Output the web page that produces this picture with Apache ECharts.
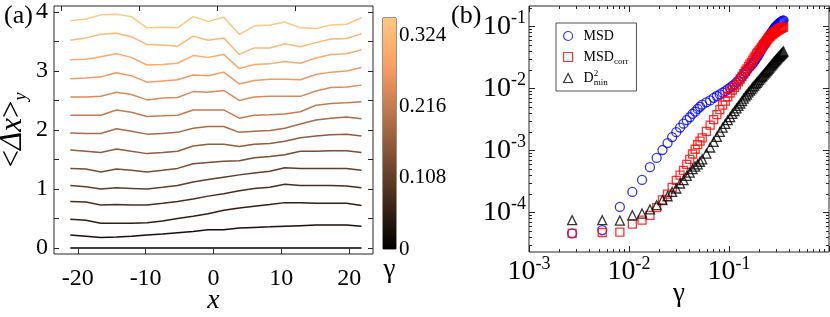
<!DOCTYPE html>
<html><head><meta charset="utf-8">
<script src="https://cdn.jsdelivr.net/npm/echarts@6/dist/echarts.min.js"></script>
<style>html,body{margin:0;padding:0;background:#fff}#c{width:830px;height:317px}</style>
</head><body><div id="c"></div>
<script>
// ---------- Panel (a): <Δx>_y profiles ----------
const xPos = [-21.1, -18.8, -16.6, -14.3, -12.1, -9.8, -7.5, -5.3, -3.0, -0.8, 1.5, 3.8, 6.0, 8.3, 10.5, 12.8, 15.1, 17.3, 19.6, 21.8];
const gammaLevels = [0, 0.027, 0.054, 0.081, 0.108, 0.135, 0.162, 0.189, 0.216, 0.243, 0.270, 0.297, 0.324, 0.351];
const dx00 = [0,0,0,0,0,0,0,0,0,0,0,0,0,0,0,0,0,0,0,0];
const dx01 = [0.22,0.20,0.18,0.19,0.20,0.22,0.24,0.26,0.28,0.31,0.31,0.34,0.35,0.36,0.37,0.38,0.39,0.39,0.39,0.37];
const dx02 = [0.49,0.47,0.42,0.42,0.42,0.43,0.46,0.50,0.54,0.58,0.64,0.68,0.71,0.74,0.77,0.77,0.76,0.76,0.76,0.72];
const dx03 = [0.79,0.78,0.73,0.74,0.73,0.73,0.76,0.79,0.83,0.88,0.92,0.97,1.01,1.03,1.08,1.06,1.06,1.06,1.05,1.02];
const dx04 = [1.06,1.04,1.00,1.02,1.01,1.00,1.03,1.06,1.12,1.16,1.20,1.24,1.27,1.30,1.36,1.35,1.35,1.35,1.35,1.32];
const dx05 = [1.35,1.34,1.29,1.34,1.32,1.29,1.32,1.35,1.43,1.45,1.47,1.48,1.53,1.55,1.58,1.64,1.64,1.65,1.65,1.62];
const dx06 = [1.66,1.64,1.62,1.68,1.64,1.60,1.62,1.64,1.73,1.76,1.76,1.72,1.76,1.77,1.81,1.87,1.90,1.92,1.93,1.90];
const dx07 = [1.95,1.94,1.94,2.02,1.98,1.93,1.94,1.96,2.03,2.06,2.06,1.96,1.98,1.99,2.03,2.10,2.17,2.20,2.22,2.19];
const dx08 = [2.25,2.25,2.25,2.34,2.30,2.23,2.24,2.25,2.34,2.34,2.34,2.20,2.25,2.26,2.27,2.31,2.42,2.45,2.46,2.48];
const dx09 = [2.56,2.56,2.57,2.64,2.60,2.51,2.54,2.55,2.65,2.64,2.67,2.50,2.56,2.57,2.57,2.57,2.66,2.72,2.73,2.76];
const dx10 = [2.87,2.88,2.90,2.97,2.92,2.81,2.83,2.85,2.93,2.92,2.98,2.78,2.84,2.86,2.86,2.85,2.94,2.98,3.00,3.06];
const dx11 = [3.19,3.20,3.24,3.29,3.23,3.10,3.11,3.13,3.26,3.23,3.28,3.04,3.11,3.12,3.16,3.13,3.22,3.28,3.29,3.36];
const dx12 = [3.52,3.56,3.62,3.64,3.58,3.45,3.44,3.42,3.59,3.52,3.56,3.28,3.39,3.39,3.46,3.41,3.48,3.54,3.55,3.63];
const dx13 = [3.85,3.88,3.95,3.96,3.92,3.73,3.74,3.73,3.92,3.84,3.91,3.62,3.76,3.78,3.83,3.73,3.72,3.78,3.79,3.90];
const profiles = [dx00,dx01,dx02,dx03,dx04,dx05,dx06,dx07,dx08,dx09,dx10,dx11,dx12,dx13];

const xTicksA = [-20, -10, 0, 10, 20];
const topTicksA = [0, 1, 2, 3];
const yTicksA = [0, 0.5, 1, 1.5, 2, 2.5, 3, 3.5, 4];
const yLabelsA = [0, 1, 2, 3, 4];
const cbTicks = [0, 0.108, 0.216, 0.324];

// ---------- Panel (b): MSD, MSD_corr, D2min vs gamma ----------
const gammaB = [0.0027,0.0054,0.0081,0.0108,0.0135,0.0162,0.0189,0.0216,0.0243,0.0270,0.0297,0.0324,0.0351,0.0378,0.0405,0.0432,0.0459,0.0486,0.0513,0.0540,
  0.0594,0.0648,0.0702,0.0756,0.0810,0.0864,0.0918,0.0972,0.1026,0.1080,
  0.1134,0.1188,0.1242,0.1296,0.1350,0.1404,0.1458,0.1512,0.1566,0.1620,
  0.1674,0.1728,0.1782,0.1836,0.1890,0.1944,0.1998,0.2052,0.2106,0.2160,
  0.2214,0.2268,0.2322,0.2376,0.2430,0.2484,0.2538,0.2592,0.2646,0.2700,
  0.2754,0.2808,0.2862,0.2916,0.2970,0.3024,0.3078,0.3132,0.3186,0.3240,
  0.3294,0.3348,0.3402,0.3456,0.3510];
const msd = [4.6e-5,5.2e-5,1.23e-4,2.15e-4,3.35e-4,5.4e-4,7.6e-4,1.02e-3,1.32e-3,1.65e-3,1.98e-3,2.35e-3,2.72e-3,3.1e-3,3.45e-3,3.9e-3,4.25e-3,4.7e-3,5.1e-3,5.5e-3,
  6.0e-3,6.45e-3,7.1e-3,7.6e-3,8.1e-3,8.6e-3,9.1e-3,9.8e-3,1.035e-2,1.11e-2,
  1.175e-2,1.26e-2,1.35e-2,1.46e-2,1.58e-2,1.70e-2,1.84e-2,2.0e-2,2.14e-2,2.26e-2,
  2.4e-2,2.57e-2,2.72e-2,2.92e-2,3.16e-2,3.39e-2,3.63e-2,3.94e-2,4.27e-2,4.57e-2,
  4.9e-2,5.25e-2,5.62e-2,5.96e-2,6.31e-2,6.68e-2,7.08e-2,7.5e-2,7.94e-2,8.32e-2,
  8.71e-2,9.12e-2,9.55e-2,9.89e-2,0.102,0.1054,0.1084,0.111,0.1135,0.116,
  0.119,0.121,0.123,0.125,0.127];
const msdCorr = [4.6e-5,4.75e-5,4.8e-5,6.5e-5,7.5e-5,9.0e-5,1.2e-4,1.6e-4,1.98e-4,2.55e-4,3.3e-4,4.0e-4,4.8e-4,6.0e-4,7.2e-4,8.8e-4,1.05e-3,1.25e-3,1.42e-3,1.6e-3,
  2.04e-3,2.57e-3,3.16e-3,3.8e-3,4.57e-3,5.4e-3,6.3e-3,7.4e-3,8.5e-3,9.5e-3,
  1.05e-2,1.15e-2,1.29e-2,1.43e-2,1.58e-2,1.74e-2,1.91e-2,2.09e-2,2.29e-2,2.48e-2,
  2.66e-2,2.88e-2,3.13e-2,3.35e-2,3.63e-2,3.85e-2,4.07e-2,4.32e-2,4.57e-2,4.84e-2,
  5.13e-2,5.37e-2,5.62e-2,5.96e-2,6.31e-2,6.61e-2,6.84e-2,7.08e-2,7.33e-2,7.55e-2,
  7.76e-2,7.94e-2,8.13e-2,8.32e-2,8.51e-2,8.67e-2,8.81e-2,8.97e-2,9.12e-2,9.29e-2,
  9.44e-2,9.55e-2,9.66e-2,9.77e-2,9.89e-2];
const d2min = [7.5e-5,7.5e-5,7.4e-5,9.0e-5,9.6e-5,1.12e-4,1.31e-4,1.58e-4,1.83e-4,2.15e-4,2.44e-4,2.94e-4,3.33e-4,3.9e-4,4.4e-4,5.0e-4,5.5e-4,6.0e-4,6.6e-4,7.2e-4,
  8.9e-4,1.12e-3,1.38e-3,1.66e-3,2.0e-3,2.34e-3,2.7e-3,3.1e-3,3.47e-3,3.9e-3,
  4.32e-3,4.79e-3,5.25e-3,5.75e-3,6.31e-3,6.92e-3,7.5e-3,8.04e-3,8.71e-3,9.27e-3,
  9.84e-3,1.05e-2,1.11e-2,1.18e-2,1.245e-2,1.31e-2,1.38e-2,1.46e-2,1.53e-2,1.6e-2,
  1.68e-2,1.76e-2,1.84e-2,1.92e-2,2.0e-2,2.09e-2,2.19e-2,2.28e-2,2.37e-2,2.47e-2,
  2.57e-2,2.66e-2,2.75e-2,2.85e-2,2.95e-2,3.05e-2,3.16e-2,3.25e-2,3.35e-2,3.45e-2,
  3.55e-2,3.66e-2,3.76e-2,3.87e-2,3.98e-2];
const seriesNamesB = ['MSD', 'MSDcorr', 'D2min'];
const xMajorB = [1e-3, 1e-2, 1e-1, 1];
const xLabelB = [1e-3, 1e-2, 1e-1];
const yMajorB = [1e-4, 1e-3, 1e-2, 1e-1];

// ---------- helpers ----------
const SERIF = '"Liberation Serif","Times New Roman",serif';
const INK = '#262626';
function minorsFor(decades) {
  const out = [];
  decades.forEach(d => { for (let m = 2; m <= 9; m++) out.push(+(d * m).toPrecision(3)); });
  return out;
}
const xMinorB = minorsFor([1e-3, 1e-2, 1e-1]);
const yMinorB = minorsFor([1e-5, 1e-4, 1e-3, 1e-2, 1e-1]);

function copper(t) {
  const r = Math.min(1, 1.25 * t), g = 0.7812 * t, b = 0.4975 * t;
  return 'rgb(' + Math.round(r * 255) + ',' + Math.round(g * 255) + ',' + Math.round(b * 255) + ')';
}
const cbMax = gammaLevels[gammaLevels.length - 1];
const tickLine = { color: INK, width: 1 };
const noLine = { show: false, onZero: false };
function tickOnly(o) {
  return Object.assign({ axisLine: noLine, splitLine: { show: false }, axisLabel: { show: false } }, o);
}
function powLabel(v) {
  const e = Math.round(Math.log10(v));
  return '10{sup|' + e + '}';
}
const supRich = { sup: { fontFamily: SERIF, fontSize: 18, lineHeight: 18, verticalAlign: 'top', color: '#000' } };

const chart = echarts.init(document.getElementById('c'), null, { renderer: 'canvas' });

const seriesA = profiles.map((arr, i) => ({
  type: 'line', xAxisIndex: 0, yAxisIndex: 0, showSymbol: false, silent: true,
  data: xPos.map((x, j) => [x, arr[j]]),
  lineStyle: { width: 1.5, color: copper(gammaLevels[i] / cbMax) },
  itemStyle: { color: copper(gammaLevels[i] / cbMax) }
}));

const markerStyles = [
  { symbol: 'circle', size: 9, color: '#0000ff' },
  { symbol: 'rect', size: 8, color: '#ff0000' },
  { symbol: 'triangle', size: 9, color: '#000000' }
];
const valuesB = [msd, msdCorr, d2min];
const seriesB = valuesB.map((vals, i) => ({
  name: seriesNamesB[i], type: 'scatter', xAxisIndex: 3, yAxisIndex: 3, silent: true,
  symbol: markerStyles[i].symbol, symbolSize: markerStyles[i].size,
  data: gammaB.map((g, j) => [g, vals[j]]),
  itemStyle: { color: 'rgba(0,0,0,0)', borderColor: markerStyles[i].color, borderWidth: 1.3 }
}));

const colorbarSeries = {
  type: 'bar', xAxisIndex: 2, yAxisIndex: 2, silent: true, barWidth: '100%',
  data: [cbMax],
  itemStyle: {
    color: new echarts.graphic.LinearGradient(0, 1, 0, 0, [
      { offset: 0, color: copper(0) }, { offset: 0.8, color: copper(0.8) }, { offset: 1, color: copper(1) }
    ])
  }
};

const legendText = { MSD: 'MSD', MSDcorr: 'MSD{sub|corr}', D2min: 'D{sup|2}{sub|min}' };
const gridCommon = { show: true, borderColor: INK, borderWidth: 1, backgroundColor: 'transparent', containLabel: false, outerBoundsMode: 'none' };

chart.setOption({
  animation: false,
  backgroundColor: '#fff',
  title: [
    { text: '(a)', left: -1, top: -2, textStyle: { fontFamily: SERIF, fontSize: 26, fontWeight: 'normal', color: '#000' } },
    { text: '(b)', left: 446, top: -2, textStyle: { fontFamily: SERIF, fontSize: 26, fontWeight: 'normal', color: '#000' } }
  ],
  grid: [
    Object.assign({ left: 54, top: 6, width: 319, height: 248 }, gridCommon),
    Object.assign({ left: 383, top: 18, width: 13, height: 231 }, gridCommon),
    Object.assign({ left: 529, top: 6, width: 300, height: 246 }, gridCommon)
  ],
  legend: {
    data: [
      { name: 'MSD', icon: 'circle', itemStyle: { color: 'rgba(0,0,0,0)', borderColor: '#0000ff', borderWidth: 1.2 } },
      { name: 'MSDcorr', icon: 'rect', itemStyle: { color: 'rgba(0,0,0,0)', borderColor: '#ff0000', borderWidth: 1.2 } },
      { name: 'D2min', icon: 'triangle', itemStyle: { color: 'rgba(0,0,0,0)', borderColor: '#000000', borderWidth: 1.2 } }
    ],
    orient: 'vertical', left: 556, top: 23, padding: [4, 8, 4, 7], itemGap: 3,
    itemWidth: 9, itemHeight: 9, backgroundColor: '#fff', borderColor: INK, borderWidth: 0.8, borderRadius: 0,
    selectedMode: false,
    formatter: n => legendText[n],
    textStyle: {
      fontFamily: SERIF, fontSize: 14, color: '#000', lineHeight: 18, padding: [0, 0, 0, 6],
      rich: {
        sub: { fontFamily: SERIF, fontSize: 9, lineHeight: 9, verticalAlign: 'bottom', color: '#000' },
        sup: { fontFamily: SERIF, fontSize: 9, lineHeight: 9, verticalAlign: 'top', width: 0.01, color: '#000' }
      }
    }
  },
  xAxis: [
    { type: 'value', gridIndex: 0, position: 'bottom', min: -23.5, max: 23.5,
      axisLine: noLine, splitLine: { show: false },
      axisTick: { inside: true, length: 5, customValues: xTicksA, lineStyle: tickLine },
      axisLabel: { customValues: xTicksA, margin: 13, fontFamily: SERIF, fontSize: 24, color: '#000' },
      name: 'x', nameLocation: 'middle', nameGap: 33, nameMoveOverlap: false,
      nameTextStyle: { fontFamily: SERIF, fontSize: 28, fontStyle: 'italic', color: '#000' } },
    tickOnly({ type: 'value', gridIndex: 0, position: 'top', min: -0.09, max: 3.99,
      axisTick: { inside: true, length: 5, customValues: topTicksA, lineStyle: tickLine } }),
    { type: 'category', gridIndex: 1, data: ['cb'], axisLine: noLine, axisTick: { show: false }, axisLabel: { show: false },
      name: 'γ', nameLocation: 'middle', nameGap: 7, nameMoveOverlap: false,
      nameTextStyle: { fontFamily: SERIF, fontSize: 27, color: '#000' } },
    { type: 'log', logBase: 10, gridIndex: 2, position: 'bottom', min: 1e-3, max: 1,
      axisLine: noLine, splitLine: { show: false },
      axisTick: { inside: true, length: 6, customValues: xMajorB, lineStyle: tickLine },
      axisLabel: { customValues: xLabelB, formatter: powLabel, margin: 3, fontFamily: SERIF, fontSize: 28, lineHeight: 34, color: '#000', rich: supRich },
      name: 'γ', nameLocation: 'middle', nameGap: 28, nameMoveOverlap: false,
      nameTextStyle: { fontFamily: SERIF, fontSize: 27, color: '#000' } },
    tickOnly({ type: 'log', logBase: 10, gridIndex: 2, position: 'bottom', min: 1e-3, max: 1,
      axisTick: { inside: true, length: 3, customValues: xMinorB, lineStyle: tickLine } }),
    tickOnly({ type: 'log', logBase: 10, gridIndex: 2, position: 'top', min: 1e-3, max: 1,
      axisTick: { inside: true, length: 6, customValues: xMajorB, lineStyle: tickLine } }),
    tickOnly({ type: 'log', logBase: 10, gridIndex: 2, position: 'top', min: 1e-3, max: 1,
      axisTick: { inside: true, length: 3, customValues: xMinorB, lineStyle: tickLine } })
  ],
  yAxis: [
    { type: 'value', gridIndex: 0, position: 'left', min: -0.1, max: 4.1,
      axisLine: noLine, splitLine: { show: false },
      axisTick: { inside: true, length: 5, customValues: yTicksA, lineStyle: tickLine },
      axisLabel: { customValues: yLabelsA, margin: 6, fontFamily: SERIF, fontSize: 24, color: '#000' },
      name: '<{it|Δx}>{sub|y}', nameLocation: 'middle', nameRotate: 90, nameGap: 24, nameMoveOverlap: false,
      nameTextStyle: { fontFamily: SERIF, fontSize: 31, color: '#000', lineHeight: 34,
        rich: {
          it: { fontFamily: SERIF, fontSize: 31, fontStyle: 'italic', color: '#000', lineHeight: 34 },
          sub: { fontFamily: SERIF, fontSize: 18, fontStyle: 'italic', color: '#000', lineHeight: 18, verticalAlign: 'bottom' }
        } } },
    tickOnly({ type: 'value', gridIndex: 0, position: 'right', min: -0.1, max: 4.1,
      axisTick: { inside: true, length: 5, customValues: yTicksA, lineStyle: tickLine } }),
    { type: 'value', gridIndex: 1, position: 'right', min: 0, max: cbMax,
      axisLine: noLine, splitLine: { show: false },
      axisTick: { inside: true, length: 3, customValues: cbTicks, lineStyle: tickLine },
      axisLabel: { customValues: cbTicks, margin: 3, fontFamily: SERIF, fontSize: 21, color: '#000',
        formatter: v => (v === 0 ? '0' : v.toFixed(3)) } },
    { type: 'log', logBase: 10, gridIndex: 2, position: 'left', min: 2.3e-5, max: 0.216,
      axisLine: noLine, splitLine: { show: false },
      axisTick: { inside: true, length: 6, customValues: yMajorB, lineStyle: tickLine },
      axisLabel: { customValues: yMajorB, formatter: powLabel, margin: 3, fontFamily: SERIF, fontSize: 28, lineHeight: 34, color: '#000', rich: supRich } },
    tickOnly({ type: 'log', logBase: 10, gridIndex: 2, position: 'left', min: 2.3e-5, max: 0.216,
      axisTick: { inside: true, length: 3, customValues: yMinorB, lineStyle: tickLine } }),
    tickOnly({ type: 'log', logBase: 10, gridIndex: 2, position: 'right', min: 2.3e-5, max: 0.216,
      axisTick: { inside: true, length: 6, customValues: yMajorB, lineStyle: tickLine } }),
    tickOnly({ type: 'log', logBase: 10, gridIndex: 2, position: 'right', min: 2.3e-5, max: 0.216,
      axisTick: { inside: true, length: 3, customValues: yMinorB, lineStyle: tickLine } })
  ],
  series: seriesA.concat([colorbarSeries]).concat(seriesB)
});
</script></body></html>
